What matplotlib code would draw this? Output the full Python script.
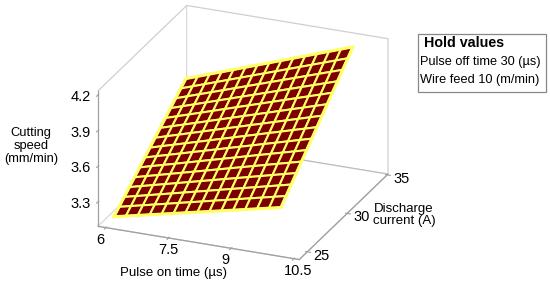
import matplotlib
matplotlib.use('Agg')
import matplotlib.pyplot as plt
from matplotlib.patches import Rectangle
from mpl_toolkits.mplot3d import proj3d
import numpy as np

plt.rcParams['font.family'] = ['Liberation Sans', 'DejaVu Sans']

# surface corners: speed[i][j] at pulse_on[i], current[j]
pulse_on = [6.0, 10.0]
current = [25.0, 34.0]
speed = [[3.12, 3.70],
         [3.43, 4.20]]

x_ticks = [6, 7.5, 9, 10.5]
y_ticks = [25, 30, 35]
z_ticks = [3.3, 3.6, 3.9, 4.2]
x_lim = (5.81, 10.63)
y_lim = (24.0, 35.1)
z_lim = (3.093, 4.234)

hold_title = 'Hold values'
hold_lines = ['Pulse off time 30 (µs)', 'Wire feed 10 (m/min)']

W, H = 550, 286
GREY = '#a0a0a0'

fig = plt.figure(figsize=(W / 100, H / 100), dpi=100)
ax = fig.add_axes([0.1, 0.02, 0.5, 0.5 * W / H], projection='3d')
ax.set_proj_type('ortho')
ax.view_init(elev=23.5, azim=-67.5)
ax.set_box_aspect((216.4, 230.4, 146.7))
ax.set_xlim(*x_lim)
ax.set_ylim(*y_lim)
ax.set_zlim(*z_lim)
ax.set_xticks(x_ticks)
ax.set_yticks(y_ticks)
ax.set_zticks(z_ticks)
ax.set_xticklabels([])
ax.set_yticklabels([])
ax.set_zticklabels([])
ax.zaxis.set_ticks_position('lower')
ax.grid(False)
for a in (ax.xaxis, ax.yaxis, ax.zaxis):
    a.pane.set_facecolor((1, 1, 1, 0))
    a.pane.set_edgecolor(GREY)
    a.pane.set_linewidth(0.9)
    a.line.set_color(GREY)
    a.line.set_linewidth(0.9)
ax.tick_params(axis='x', color=GREY)
ax.tick_params(axis='y', color=GREY)
ax.tick_params(axis='z', color=GREY)

# surface mesh (14 x 14 cells, bilinear between the read corners)
ax.computed_zorder = False
u = np.linspace(0, 1, 15)
U, V = np.meshgrid(u, u, indexing='ij')
s = np.array(speed)
X = pulse_on[0] + U * (pulse_on[1] - pulse_on[0])
Y = current[0] + V * (current[1] - current[0])
Z = (s[0, 0] * (1 - U) * (1 - V) + s[1, 0] * U * (1 - V)
     + s[0, 1] * (1 - U) * V + s[1, 1] * U * V)
ax.plot_surface(X, Y, Z, rstride=1, cstride=1, color='#7c0000',
                edgecolor='#ffff66', linewidth=1.5, shade=False, zorder=1)
ex = [X[0, 0], X[-1, 0], X[-1, -1], X[0, -1], X[0, 0]]
ey = [Y[0, 0], Y[-1, 0], Y[-1, -1], Y[0, -1], Y[0, 0]]
ez = [Z[0, 0], Z[-1, 0], Z[-1, -1], Z[0, -1], Z[0, 0]]
ax.plot(ex, ey, ez, color='#ffff66', lw=2.2, zorder=2)

# fit the projected box to where it sits in the reference
fig.canvas.draw()
corners = np.array([[a, b, c] for a in x_lim for b in y_lim for c in z_lim])
M = ax.get_proj()
px, py, _ = proj3d.proj_transform(corners[:, 0], corners[:, 1], corners[:, 2], M)
d = ax.transData.transform(np.c_[px, py])
bb = ax.bbox
sc = (388 - 98) / (d[:, 0].max() - d[:, 0].min())
box_c = np.array([(d[:, 0].max() + d[:, 0].min()) / 2, (d[:, 1].max() + d[:, 1].min()) / 2])
ax_c = np.array([(bb.x0 + bb.x1) / 2, (bb.y0 + bb.y1) / 2])
side = bb.width * sc
target = np.array([(98 + 388) / 2, H - (7 + 258) / 2])
new_c = target - (box_c - ax_c) * sc
ax.set_position([(new_c[0] - side / 2) / W, (new_c[1] - side / 2) / H, side / W, side / H])


def tick_label(x, y, z, text, dx, dy, ha, va):
    qx, qy, _ = proj3d.proj_transform(x, y, z, ax.get_proj())
    ax.annotate(text, xy=(qx, qy), xytext=(dx, dy), textcoords='offset pixels',
                ha=ha, va=va, fontsize=10.5, annotation_clip=False)


for t in x_ticks:
    tick_label(t, y_lim[0], z_lim[0], f'{t:g}', -10, -12, 'left', 'center')
for t in y_ticks:
    tick_label(x_lim[1], t, z_lim[0], f'{t:g}', 6, -4, 'left', 'center')
for t in z_ticks:
    tick_label(x_lim[0], y_lim[0], t, f'{t:g}', -7, -2, 'right', 'center')

fig.text(31 / W, 1 - 146 / H, 'Cutting\nspeed\n(mm/min)', ha='center', va='center',
         fontsize=9.3, linespacing=1.1)
fig.text(174 / W, 1 - 273 / H, 'Pulse on time (µs)', ha='center', va='center', fontsize=9.5)
fig.text(404 / W, 1 - 215 / H, 'Discharge\ncurrent (A)', ha='center', va='center',
         fontsize=9.5, linespacing=1.1)

fig.patches.append(Rectangle((418 / W, 1 - 92 / H), 128 / W, 58 / H, transform=fig.transFigure,
                             facecolor='white', edgecolor='#888888', lw=0.9))
fig.text(424 / W, 1 - 43 / H, hold_title, ha='left', va='center', fontsize=10.3, fontweight='bold')
for i, line in enumerate(hold_lines):
    fig.text(420 / W, 1 - (62 + 18 * i) / H, line, ha='left', va='center', fontsize=9.2)

fig.savefig('out.png', dpi=100)
